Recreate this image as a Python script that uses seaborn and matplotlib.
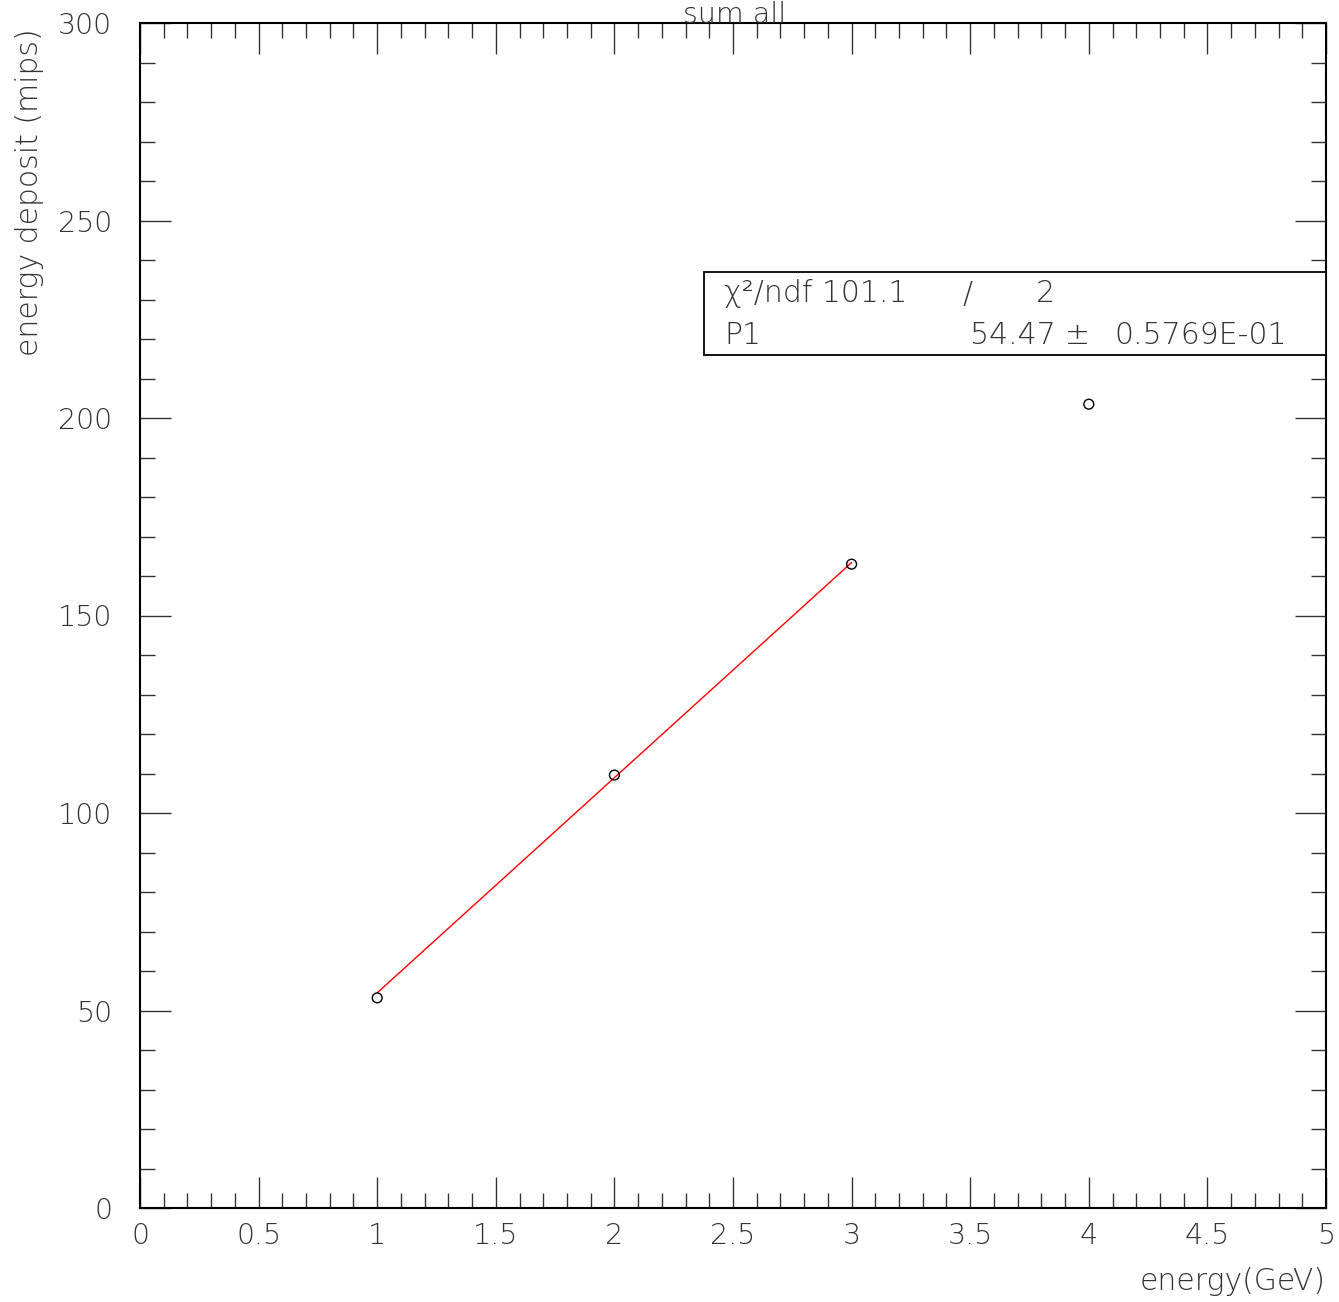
import matplotlib
matplotlib.use("Agg")
import matplotlib.pyplot as plt
import seaborn as sns
import numpy as np
import pandas as pd
from matplotlib.ticker import MultipleLocator

# Data
energy_gev = [1, 2, 3, 4]
deposit_mips = [53.2, 109.6, 163.0, 203.5]
fit_p1 = 54.47
fit_p1_err = "0.5769E-01"
fit_chi2 = "101.1"
fit_ndf = "2"
fit_range = [1, 3]
x_tick_labels = ["0", "0.5", "1", "1.5", "2", "2.5", "3", "3.5", "4", "4.5", "5"]

sns.set_theme(style="white")
plt.rcParams['font.family'] = ['DejaVu Sans']
plt.rcParams['font.weight'] = 'light'

TXT = "#333333"
FS = 20.5
FL = 21.5

fig = plt.figure(figsize=(13.39, 13.02), dpi=100)
W, H = 1339, 1302
left, right, top, bottom = 140, 1326, 23, 1208
ax = fig.add_axes([left / W, 1 - bottom / H, (right - left) / W, (bottom - top) / H])

df = pd.DataFrame({"x": energy_gev, "y": deposit_mips})
fx = np.array(fit_range, dtype=float)
fit_df = pd.DataFrame({"x": fx, "y": fit_p1 * fx})

sns.lineplot(data=fit_df, x="x", y="y", ax=ax, color="red", linewidth=1.0)
sns.scatterplot(data=df, x="x", y="y", ax=ax, marker="o", s=50,
                facecolor="none", edgecolor="black", linewidth=1.0, zorder=5)

ax.set_xlim(0, 5)
ax.set_ylim(0, 300)
ax.xaxis.set_minor_locator(MultipleLocator(0.1))
ax.yaxis.set_major_locator(MultipleLocator(50))
ax.yaxis.set_minor_locator(MultipleLocator(10))
ax.set_xticks(np.arange(0, 5.01, 0.5))
ax.set_xticklabels(x_tick_labels)
ax.tick_params(which="both", direction="in", top=True, right=True, bottom=True, left=True,
               color="#333333", width=1.0)
ax.tick_params(which="major", length=22, labelsize=FS, labelcolor=TXT)
ax.tick_params(axis="x", which="major", pad=10)
ax.tick_params(axis="y", which="major", pad=20)
ax.tick_params(which="minor", length=11)
for sp in ax.spines.values():
    sp.set_color("black")
    sp.set_linewidth(1.5)
ax.set_xlabel("")
ax.set_ylabel("")

fig.text(right / W, 1 - 1282 / H, "energy(GeV)", ha="right", va="center",
         fontsize=FL, color=TXT)
fig.text(30 / W, 1 - 192 / H, "energy deposit (mips)", ha="center", va="center",
         rotation=90, fontsize=FL, color=TXT)
fig.text(735 / W, 1 - 1 / H, "sum all", ha="center", va="top",
         fontsize=FS, color=TXT)

# stats box
bx0, bx1, by0, by1 = 704, 1326, 272, 355
box = plt.Rectangle((bx0 / W, 1 - by1 / H), (bx1 - bx0) / W, (by1 - by0) / H,
                    transform=fig.transFigure, fill=True, facecolor="white",
                    edgecolor="black", linewidth=1.3, zorder=10)
fig.add_artist(box)
r1, r2 = 1 - 294 / H, 1 - 335 / H
fig.text(724 / W, r1, "\u03c7\u00b2/ndf " + fit_chi2, ha="left", va="center",
         fontsize=FL, color=TXT, zorder=11)
fig.text(968 / W, r1, "/", ha="center", va="center", fontsize=FL, color=TXT, zorder=11)
fig.text(1055 / W, r1, fit_ndf, ha="right", va="center", fontsize=FL, color=TXT, zorder=11)
fig.text(724 / W, r2, "P1", ha="left", va="center", fontsize=FL, color=TXT, zorder=11)
fig.text(1056 / W, r2, f"{fit_p1:.2f}", ha="right", va="center", fontsize=FL, color=TXT, zorder=11)
fig.text(1077 / W, r2, "\u00b1", ha="center", va="center", fontsize=FL, color=TXT, zorder=11)
fig.text(1114 / W, r2, fit_p1_err, ha="left", va="center", fontsize=FL, color=TXT, zorder=11)

fig.savefig("out.png", dpi=100, facecolor="white")
